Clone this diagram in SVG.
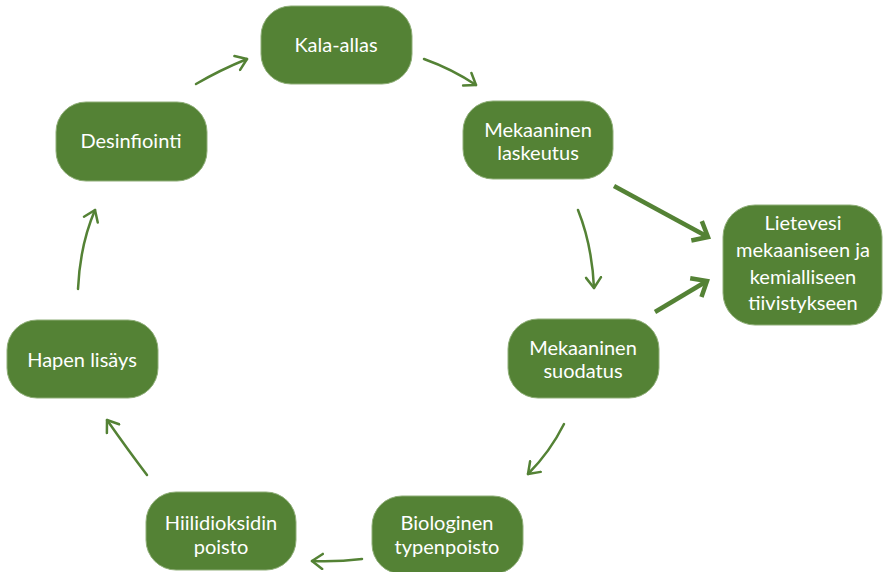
<svg xmlns="http://www.w3.org/2000/svg" width="883" height="572" viewBox="0 0 883 572">
  <style>
    .box { fill: #548235; stroke: #8fae78; stroke-width: 1; }
    .lbl { fill: #ffffff; font-family: Lato, "Open Sans", "DejaVu Sans", sans-serif; font-size: 20px; text-anchor: middle; }
    .thin { fill: none; stroke: #548235; stroke-width: 2.5; stroke-linecap: round; marker-end: url(#ah); }
    .thick { fill: none; stroke: #548235; stroke-width: 4.5; stroke-linecap: butt; marker-end: url(#ahb); }
  </style>
  <defs>
    <marker id="ah" viewBox="0 0 14 18" refX="12" refY="9" markerWidth="14" markerHeight="18" markerUnits="userSpaceOnUse" orient="auto">
      <path d="M1.5,1.5 L12,9 L1.5,16.5" fill="none" stroke="#548235" stroke-width="2.5" stroke-linecap="round" stroke-linejoin="round"/>
    </marker>
    <marker id="ahb" viewBox="0 0 18 26" refX="15" refY="13" markerWidth="18" markerHeight="26" markerUnits="userSpaceOnUse" orient="auto">
      <path d="M2,2 L15,13 L2,24" fill="none" stroke="#548235" stroke-width="4.5" stroke-linejoin="miter"/>
    </marker>
  </defs>

  <g id="connectors">
    <path class="thin" d="M196,84 Q220,70 247,59"/>
    <path class="thin" d="M424,59 Q452,69 476,85"/>
    <path class="thin" d="M578,210 Q592,245 594,288"/>
    <path class="thick" d="M614,186 L708,237"/>
    <path class="thick" d="M655,312 L707,281"/>
    <path class="thin" d="M564,424 Q550,452 528,474"/>
    <path class="thin" d="M362,559 Q337,562 312,561"/>
    <path class="thin" d="M147,475 Q128,450 107,420"/>
    <path class="thin" d="M78,289 Q80,245 95,210"/>
  </g>

  <g id="kala-allas">
    <rect class="box" x="261" y="6" width="151" height="78" rx="30"/>
    <text class="lbl" x="336" y="52">Kala-allas</text>
  </g>
  <g id="mekaaninen-laskeutus">
    <rect class="box" x="463" y="101" width="150" height="78" rx="30"/>
    <text class="lbl" x="538" y="137">Mekaaninen</text>
    <text class="lbl" x="538" y="160">laskeutus</text>
  </g>
  <g id="lietevesi">
    <rect class="box" x="723" y="205" width="159" height="120" rx="32"/>
    <text class="lbl" x="803" y="230">Lietevesi</text>
    <text class="lbl" x="803" y="257">mekaaniseen ja</text>
    <text class="lbl" x="803" y="284">kemialliseen</text>
    <text class="lbl" x="803" y="310">tiivistykseen</text>
  </g>
  <g id="mekaaninen-suodatus">
    <rect class="box" x="508" y="319" width="151" height="79" rx="30"/>
    <text class="lbl" x="583" y="355">Mekaaninen</text>
    <text class="lbl" x="583" y="378">suodatus</text>
  </g>
  <g id="biologinen-typenpoisto">
    <rect class="box" x="372" y="496" width="151" height="78" rx="30"/>
    <text class="lbl" x="447" y="530">Biologinen</text>
    <text class="lbl" x="447" y="554">typenpoisto</text>
  </g>
  <g id="hiilidioksidin-poisto">
    <rect class="box" x="146" y="492" width="150" height="78" rx="30"/>
    <text class="lbl" x="221" y="530">Hiilidioksidin</text>
    <text class="lbl" x="221" y="554">poisto</text>
  </g>
  <g id="hapen-lisays">
    <rect class="box" x="7" y="320" width="151" height="78" rx="30"/>
    <text class="lbl" x="82" y="367">Hapen lisäys</text>
  </g>
  <g id="desinfiointi">
    <rect class="box" x="56" y="102" width="151" height="79" rx="30"/>
    <text class="lbl" x="131" y="148">Desinfiointi</text>
  </g>
</svg>
